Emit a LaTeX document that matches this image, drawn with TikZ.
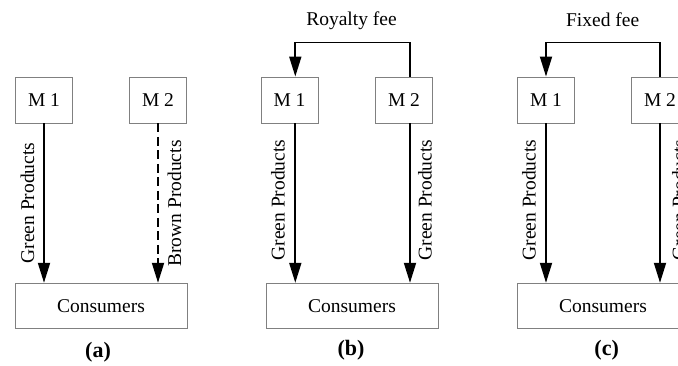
\documentclass[tikz,border=0pt]{standalone}
\usepackage{fontspec}
\setmainfont{Liberation Serif}
\usetikzlibrary{arrows.meta}
\begin{document}
\begin{tikzpicture}[x=1pt,y=-1pt,
  box/.style={draw=black!50,line width=0.9pt,inner sep=0pt,font=\fontsize{19.5}{22}\selectfont},
  mbox/.style={box,minimum width=57pt,minimum height=46pt},
  cbox/.style={box,minimum width=172pt,minimum height=45.5pt},
  flow/.style={line width=1.8pt,-{Triangle[length=20pt,width=12pt]}},
  lbl/.style={font=\fontsize{19.5}{22}\selectfont,rotate=90,inner sep=0pt},
  fee/.style={font=\fontsize{19.5}{22}\selectfont,inner sep=0pt},
  sublbl/.style={font=\fontsize{22}{24}\selectfont\bfseries,inner sep=0pt}]
\clip (0,0) rectangle (678,365);
\useasboundingbox (0,0) rectangle (678,365);
% panel (a)
\node[mbox] (a1) at (44,100) {M 1};
\node[mbox] (a2) at (158,100) {M 2};
\node[cbox] (ac) at (101,306) {Consumers};
\draw[flow] (a1.south) -- (a1.south |- ac.north);
\draw[flow,dash pattern=on 9pt off 4.5pt] (a2.south) -- (a2.south |- ac.north);
\node[lbl,anchor=south] (ag) at (34.5,203) {Green Products};
\node[lbl,anchor=north] (ab) at (167.5,203.5) {Brown Products};
\node[sublbl] (la) at (98,352) {(a)};
% panel (b)
\node[mbox] (b1) at (289.5,100) {M 1};
\node[mbox] (b2) at (404,100) {M 2};
\node[cbox] (bc) at (352,306) {Consumers};
\coordinate (b1s) at ([xshift=5.8pt]b1.south);
\coordinate (b2s) at ([xshift=6pt]b2.south);
\coordinate (b1n) at ([xshift=5.8pt]b1.north);
\coordinate (b2n) at ([xshift=6pt]b2.north);
\draw[flow] (b1s) -- (b1s |- bc.north);
\draw[flow] (b2s) -- (b2s |- bc.north);
\draw[flow] (b2n) -- ++(0,-34) -| (b1n);
\node[fee] (bf) at (351.5,21) {Royalty fee};
\node[lbl,anchor=south] (bg1) at (285,200) {Green Products};
\node[lbl,anchor=north] (bg2) at (418,200) {Green Products};
\node[sublbl] (lb) at (351,350) {(b)};
% panel (c)
\node[mbox] (c1) at (546,100) {M 1};
\node[mbox] (c2) at (660,100) {M 2};
\node[cbox] (cc) at (603,306) {Consumers};
\draw[flow] (c1.south) -- (c1.south |- cc.north);
\draw[flow] (c2.south) -- (c2.south |- cc.north);
\draw[flow] (c2.north) -- ++(0,-34) -| (c1.north);
\node[fee] (cf) at (602.7,20) {Fixed fee};
\node[lbl,anchor=south] (cg1) at (536,200) {Green Products};
\node[lbl,anchor=north] (cg2) at (672,200) {Green Products};
\node[sublbl] (lc) at (606.7,350) {(c)};
\end{tikzpicture}
\end{document}
